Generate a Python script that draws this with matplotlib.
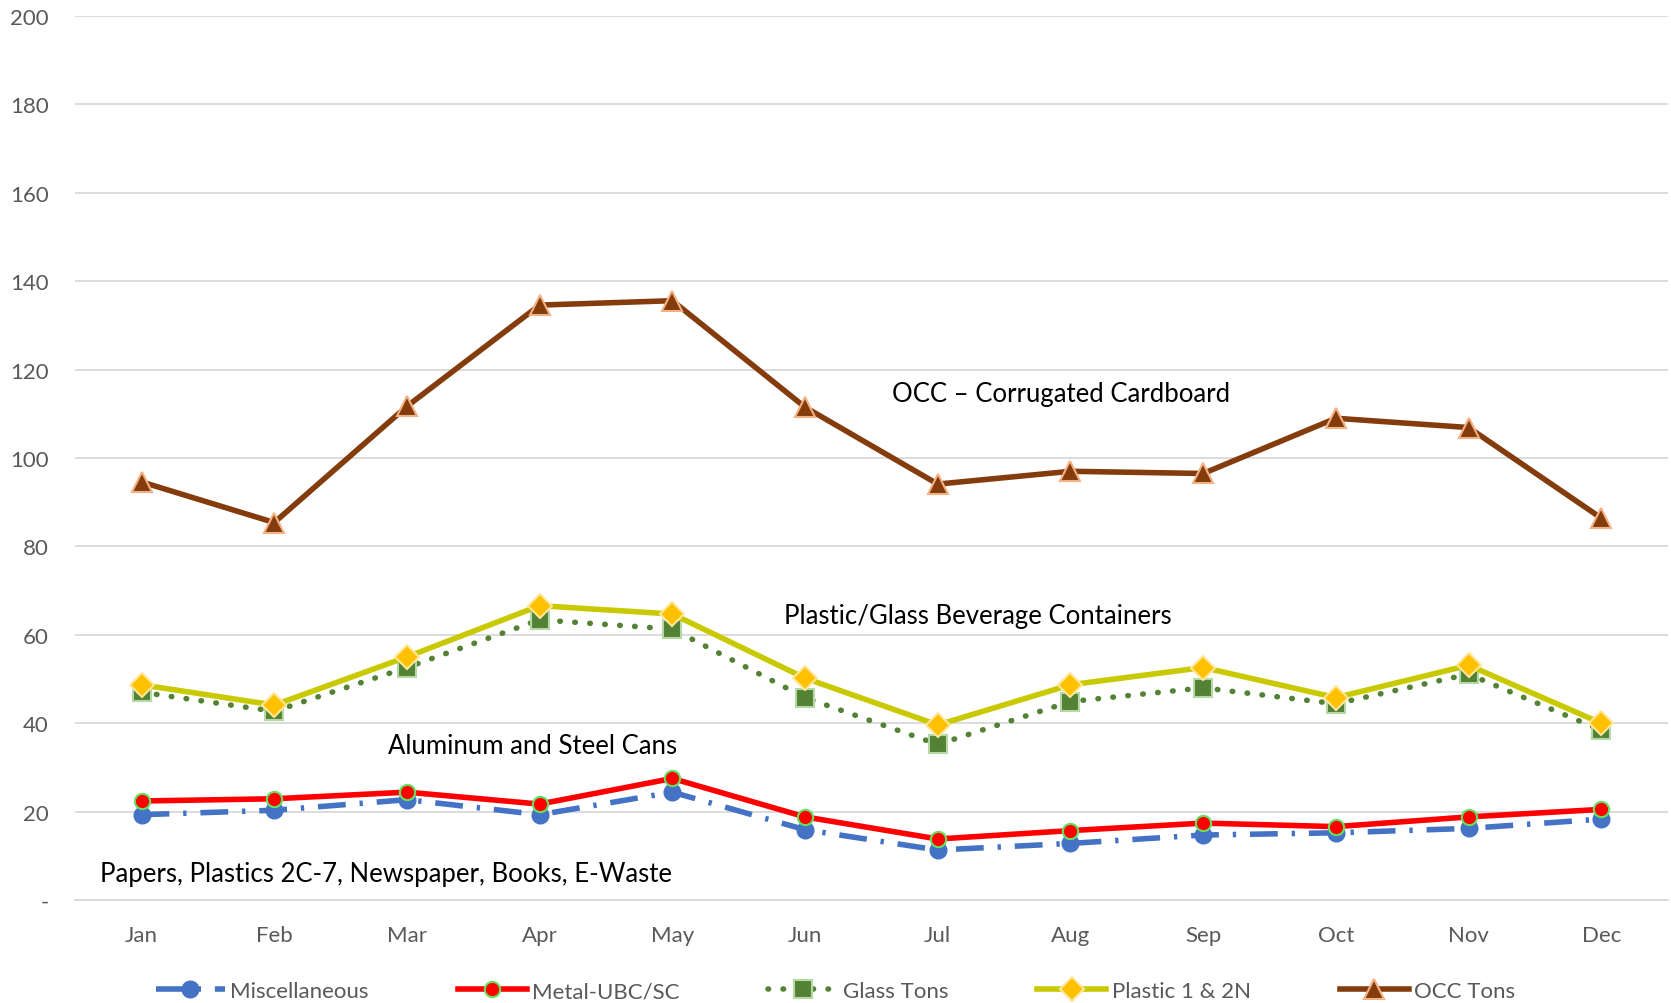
import matplotlib.pyplot as plt
import numpy as np

plt.rcParams['font.family'] = ['Lato', 'DejaVu Sans']

months = ['Jan', 'Feb', 'Mar', 'Apr', 'May', 'Jun', 'Jul', 'Aug', 'Sep', 'Oct', 'Nov', 'Dec']
misc = [19.3, 20.3, 22.7, 19.3, 24.4, 15.9, 11.3, 12.8, 14.7, 15.2, 16.2, 18.3]
metal = [22.4, 22.9, 24.4, 21.7, 27.5, 18.8, 13.8, 15.7, 17.4, 16.6, 18.8, 20.5]
glass = [47.0, 42.7, 52.6, 63.4, 61.3, 45.8, 35.2, 44.9, 48.0, 44.4, 51.1, 38.4]
plastic = [48.7, 44.1, 55.0, 66.6, 64.7, 50.2, 39.6, 48.7, 52.6, 45.8, 53.1, 40.0]
occ = [94.6, 85.4, 111.7, 134.6, 135.6, 111.5, 94.1, 97.0, 96.5, 109.0, 106.9, 86.4]
y_ticks = [0, 20, 40, 60, 80, 100, 120, 140, 160, 180, 200]
y_labels = ['-', '20', '40', '60', '80', '100', '120', '140', '160', '180', '200']

fig = plt.figure(figsize=(16.71, 10.04), dpi=100)
ax = fig.add_axes([0.045, 0.1026, 0.953, 0.8804])
x = np.arange(len(months))

ax.plot(x, misc, color='#4472C4', lw=4, dashes=(5, 2.5, 0.6, 2.5), marker='o', ms=12,
        mfc='#4472C4', mec='#4472C4', label='Miscellaneous', zorder=3)
ax.plot(x, metal, color='#FF0000', lw=4, marker='o', ms=11,
        mfc='#FF0000', mec='#66E060', mew=1.5, label='Metal-UBC/SC', zorder=4)
ax.plot(x, glass, color='#548235', lw=4, linestyle=(0, (0.1, 2.6)), dash_capstyle='round',
        marker='s', ms=13, mfc='#548235', mec='#B5D9A5', mew=1.5, label='Glass Tons', zorder=3)
ax.plot(x, plastic, color='#C9C900', lw=4, marker='D', ms=12,
        mfc='#FFC000', mec='#FFE699', mew=1.5, label='Plastic 1 & 2N', zorder=4)
ax.plot(x, occ, color='#843C0C', lw=4, marker='^', ms=14,
        mfc='#843C0C', mec='#F4B183', mew=1.5, label='OCC Tons', zorder=4)

ax.text(5.655, 114.6, 'OCC \u2013 Corrugated Cardboard', fontsize=18.5, va='center', ha='left')
ax.text(4.84, 64.4, 'Plastic/Glass Beverage Containers', fontsize=18.5, va='center', ha='left')
ax.text(1.856, 35.0, 'Aluminum and Steel Cans', fontsize=18.5, va='center', ha='left')
ax.text(-0.31, 6.0, 'Papers, Plastics 2C-7, Newspaper, Books, E-Waste', fontsize=18.5, va='center', ha='left')

ax.set_xlim(-0.5, 11.5)
ax.set_ylim(0, 200)
ax.set_yticks(y_ticks)
ax.set_yticklabels(y_labels)
ax.set_xticks(x)
ax.set_xticklabels(months)
ax.tick_params(axis='both', length=0, labelsize=16, labelcolor='#595959')
ax.tick_params(axis='x', pad=18)
ax.tick_params(axis='y', pad=19)
ax.grid(axis='y', color='#D9D9D9', lw=1.3)
ax.set_axisbelow(True)
for s in ['top', 'right', 'left']:
    ax.spines[s].set_visible(False)
ax.spines['bottom'].set_color('#D9D9D9')
ax.spines['bottom'].set_linewidth(1.3)

leg = fig.legend(loc='lower center', bbox_to_anchor=(0.5, -0.018), ncol=5, frameon=False,
                 fontsize=16, handlelength=3.1, columnspacing=4.0, handletextpad=0.25)
for t in leg.get_texts():
    t.set_color('#595959')

fig.savefig('out.png', dpi=100)
